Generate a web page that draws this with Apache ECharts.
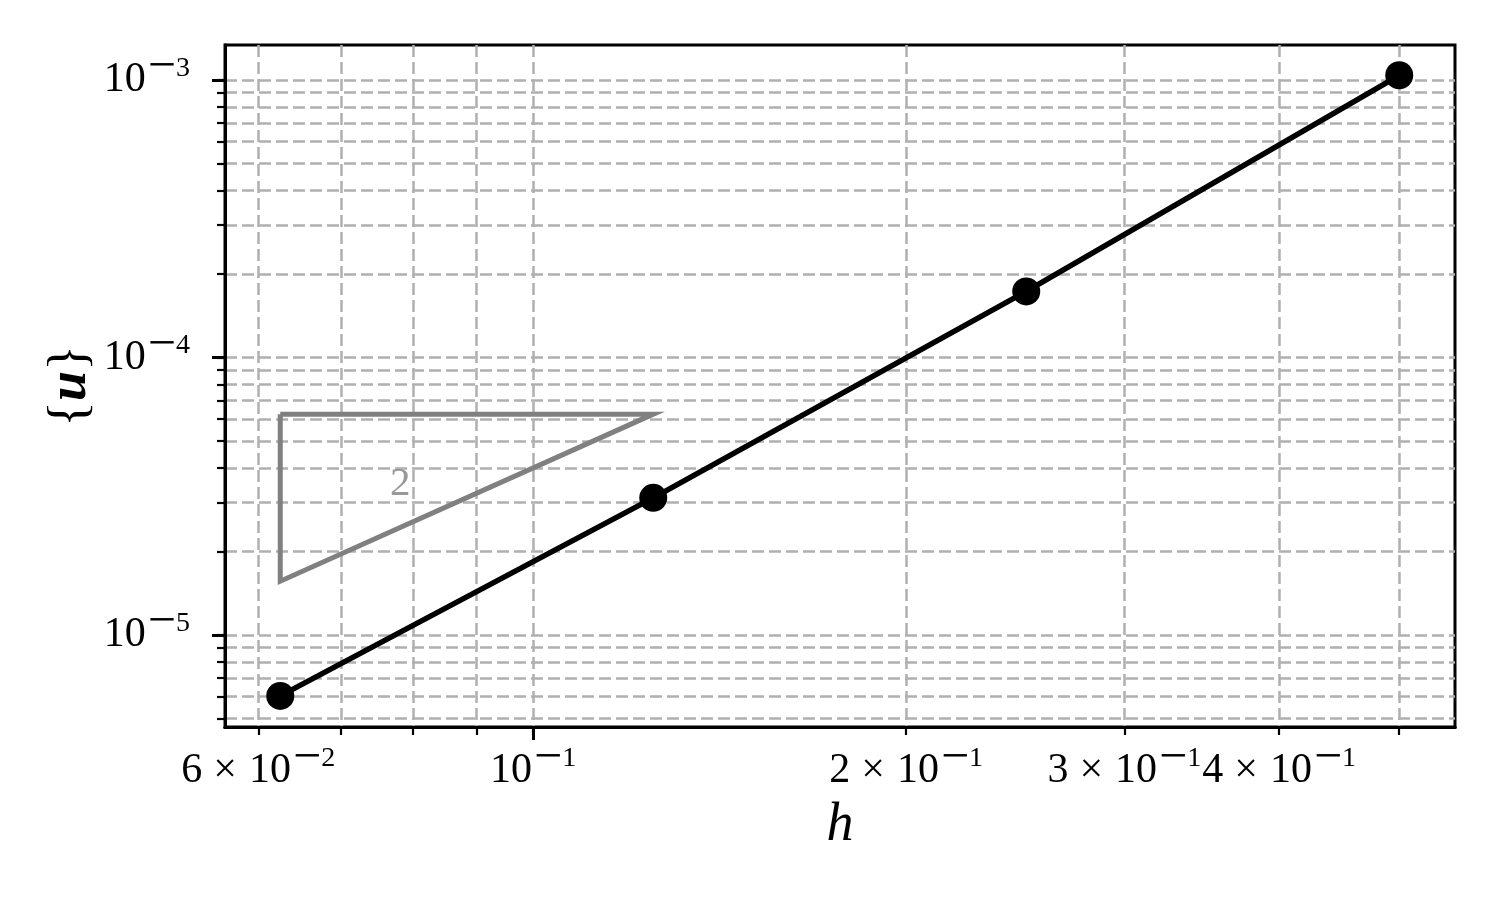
<!DOCTYPE html>
<html>
<head>
<meta charset="utf-8">
<script src="https://cdn.jsdelivr.net/npm/echarts@6/dist/echarts.min.js"></script>
<style>
  html, body { margin: 0; padding: 0; background: #fff; }
  #chart { width: 1500px; height: 900px; }
</style>
</head>
<body>
<div id="chart"></div>
<script>
// mesh size and error values
const hValues = [0.0625, 0.125, 0.25, 0.5];
const errValues = [6.03e-6, 3.12e-5, 1.73e-4, 1.04e-3];

// slope triangle (order 2)
const triH = [0.0625, 0.125, 0.0625, 0.0625];
const triErr = [6.25e-5, 6.25e-5, 1.5625e-5, 6.25e-5];
const triLabel = ['2'];
const triLabelPos = [0.0781, 3.5e-5];

// ticks
const xMinorTicks = [0.06, 0.07, 0.08, 0.09, 0.2, 0.3, 0.4, 0.5];
const xMajorTicks = [0.1];
const xMinorLabels = [0.06, 0.2, 0.3, 0.4];
const yMajorTicks = [1e-5, 1e-4, 1e-3];
const yMinorTicks = [5e-6, 6e-6, 7e-6, 8e-6, 9e-6,
  2e-5, 3e-5, 4e-5, 5e-5, 6e-5, 7e-5, 8e-5, 9e-5,
  2e-4, 3e-4, 4e-4, 5e-4, 6e-4, 7e-4, 8e-4, 9e-4];

const xRange = [0.0564, 0.5546];
const yRange = [4.66e-6, 1.337e-3];

const FONT = 'Liberation Serif';

function sciLabel(v) {
  const e = Math.floor(Math.log10(v) + 1e-9);
  const m = Math.round(v / Math.pow(10, e));
  const sup = '{mn|\u2212}{sp|' + Math.abs(e) + '}';
  if (m === 1) return '{bg|10}' + sup;
  return '{bg|' + m + '}{tm|\u00d7}{bg|10}' + sup;
}

// token "height" sets where each piece sits vertically (top aligned)
const richLabel = {
  bg: { fontFamily: FONT, fontSize: 42, lineHeight: 41, height: 41, color: '#000', verticalAlign: 'top' },
  tm: { fontFamily: FONT, fontSize: 42, lineHeight: 41, height: 41, color: '#000', verticalAlign: 'top', padding: [0, 12, 0, 11] },
  mn: { fontFamily: FONT, fontSize: 50, lineHeight: 17, height: 17, color: '#000', verticalAlign: 'top', padding: [0, 0, 0, 2] },
  sp: { fontFamily: FONT, fontSize: 28, lineHeight: 18, height: 18, color: '#000', verticalAlign: 'top' }
};

const gridLine = { show: true, lineStyle: { color: '#b0b0b0', width: 2.5, type: [12, 5] } };

function makeAxis(range, pos, ticks, tickLen, tickW, labels, split, extra) {
  return Object.assign({
    type: 'log',
    logBase: 10,
    min: range[0],
    max: range[1],
    position: pos,
    axisLine: { show: true, lineStyle: { color: '#000', width: 3 } },
    axisTick: { show: true, customValues: ticks, length: tickLen, lineStyle: { color: '#000', width: tickW } },
    axisLabel: {
      show: labels.length > 0,
      customValues: labels,
      formatter: sciLabel,
      fontFamily: FONT,
      fontSize: 42,
      rich: richLabel,
      margin: pos === 'bottom' ? 23 : 35
    },
    splitLine: split ? gridLine : { show: false },
    minorTick: { show: false },
    minorSplitLine: { show: false }
  }, extra || {});
}

const chart = echarts.init(document.getElementById('chart'));
chart.setOption({
  animation: false,
  backgroundColor: '#fff',
  grid: {
    left: 225, right: 45, top: 45, bottom: 173,
    show: true, borderColor: '#000', borderWidth: 3, backgroundColor: 'transparent'
  },
  xAxis: [
    makeAxis(xRange, 'bottom', xMinorTicks.concat(xMajorTicks), 8, 2.2, xMinorLabels, true, {
      name: 'h',
      nameLocation: 'middle',
      nameGap: 72,
      nameTextStyle: { fontFamily: FONT, fontSize: 54, fontStyle: 'italic', color: '#000' }
    }),
    makeAxis(xRange, 'bottom', xMajorTicks, 13, 3, xMajorTicks, false)
  ],
  yAxis: [
    makeAxis(yRange, 'left', yMinorTicks.concat(yMajorTicks), 8, 2.2, [], true, {
      name: '{{u|u}}',
      nameLocation: 'middle',
      nameGap: 127,
      nameTextStyle: {
        fontFamily: FONT, fontSize: 54, color: '#000',
        rich: { u: { fontFamily: FONT, fontSize: 54, fontWeight: 'bold', fontStyle: 'italic', color: '#000' } }
      }
    }),
    makeAxis(yRange, 'left', yMajorTicks, 13, 3, yMajorTicks, false)
  ],
  series: [
    {
      type: 'line',
      xAxisIndex: 0, yAxisIndex: 0,
      data: triH.map((h, i) => [h, triErr[i]]),
      symbol: 'none',
      lineStyle: { color: '#808080', width: 5, join: 'miter' },
      z: 3
    },
    {
      type: 'scatter',
      xAxisIndex: 0, yAxisIndex: 0,
      data: [triLabelPos],
      symbolSize: 1,
      itemStyle: { color: 'transparent' },
      label: {
        show: true, position: 'inside', formatter: triLabel[0],
        fontFamily: FONT, fontSize: 41, color: '#808080'
      },
      z: 3
    },
    {
      type: 'line',
      xAxisIndex: 0, yAxisIndex: 0,
      data: hValues.map((h, i) => [h, errValues[i]]),
      symbol: 'circle',
      symbolSize: 28,
      itemStyle: { color: '#000' },
      lineStyle: { color: '#000', width: 5.5 },
      z: 5
    }
  ]
});
</script>
</body>
</html>
